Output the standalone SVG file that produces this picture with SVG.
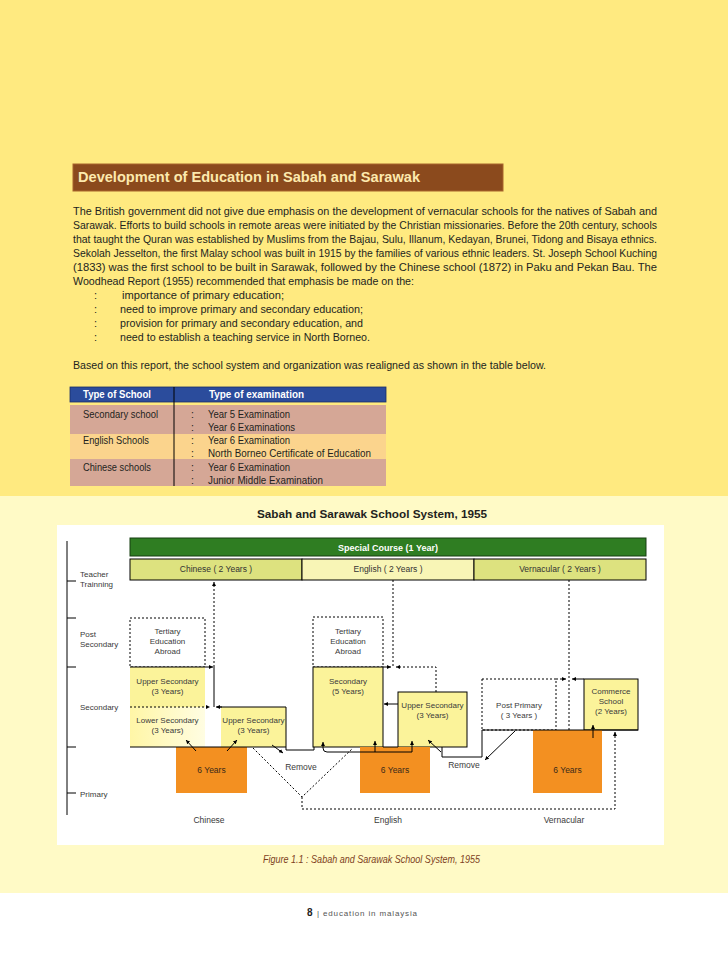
<svg xmlns="http://www.w3.org/2000/svg" width="728" height="963" viewBox="0 0 728 963">
<defs>
<style>
.f{font-family:"Liberation Sans",Arial,sans-serif}
.p{font-family:"Liberation Sans",Arial,sans-serif;font-size:11px;fill:#231f20}
.t{font-family:"Liberation Sans",Arial,sans-serif;font-size:10.5px;fill:#231f20}
.th{font-family:"Liberation Sans",Arial,sans-serif;font-size:10.5px;font-weight:bold;fill:#ffffff}
.d{font-family:"Liberation Sans",Arial,sans-serif;font-size:8px;fill:#3a3a3a}
.dm{font-family:"Liberation Sans",Arial,sans-serif;font-size:8px;fill:#3a3a3a;text-anchor:middle}
.ln{stroke:#000;stroke-width:1;fill:none}
.ds{stroke:#000;stroke-width:1;fill:none;stroke-dasharray:2 2}
.yb{fill:#fbf39a}
.or{fill:#f39021}
</style>
<linearGradient id="lg" x1="0" y1="0" x2="1" y2="0">
<stop offset="0" stop-color="#fff6a6"/>
<stop offset="1" stop-color="#fffde2"/>
</linearGradient>
<marker id="ah" viewBox="0 0 6 6" refX="6" refY="3" markerWidth="4" markerHeight="4" orient="auto">
<path d="M0,0 L6,3 L0,6 z" fill="#000"/>
</marker>
</defs>

<!-- backgrounds -->
<rect x="0" y="0" width="728" height="496" fill="#ffea80"/>
<rect x="0" y="496" width="728" height="397" fill="#fffac6"/>
<rect x="0" y="893" width="728" height="70" fill="#ffffff"/>
<rect x="57" y="525" width="607" height="320" fill="#ffffff"/>

<!-- header -->
<g id="header">
<rect x="73" y="164" width="430" height="27" fill="#8b4a1d" stroke="#a8642c" stroke-width="1"/>
<text class="f" x="78" y="182" font-size="14" font-weight="bold" fill="#fde9ad" textLength="342" lengthAdjust="spacingAndGlyphs">Development of Education in Sabah and Sarawak</text>
</g>

<!-- paragraph -->
<g id="paragraph">
<text class="p" x="73" y="215" textLength="584" lengthAdjust="spacingAndGlyphs">The British government did not give due emphasis on the development of vernacular schools for the natives of Sabah and</text>
<text class="p" x="73" y="229" textLength="584" lengthAdjust="spacingAndGlyphs">Sarawak. Efforts to build schools in remote areas were initiated by the Christian missionaries. Before the 20th century, schools</text>
<text class="p" x="73" y="243" textLength="584" lengthAdjust="spacingAndGlyphs">that taught the Quran was established by Muslims from the Bajau, Sulu, Illanum, Kedayan, Brunei, Tidong and Bisaya ethnics.</text>
<text class="p" x="73" y="257" textLength="584" lengthAdjust="spacingAndGlyphs">Sekolah Jesselton, the first Malay school was built in 1915 by the families of various ethnic leaders. St. Joseph School Kuching</text>
<text class="p" x="73" y="271" textLength="584" lengthAdjust="spacingAndGlyphs">(1833) was the first school to be built in Sarawak, followed by the Chinese school (1872) in Paku and Pekan Bau. The</text>
<text class="p" x="73" y="285" textLength="341" lengthAdjust="spacingAndGlyphs">Woodhead Report (1955) recommended that emphasis be made on the:</text>
<text class="p" x="94" y="299" font-size="7">:</text>
<text class="p" x="122" y="299" textLength="162" lengthAdjust="spacingAndGlyphs">importance of primary education;</text>
<text class="p" x="94" y="313" font-size="7">:</text>
<text class="p" x="120" y="313" textLength="243" lengthAdjust="spacingAndGlyphs">need to improve primary and secondary education;</text>
<text class="p" x="94" y="327" font-size="7">:</text>
<text class="p" x="120" y="327" textLength="243" lengthAdjust="spacingAndGlyphs">provision for primary and secondary education, and</text>
<text class="p" x="94" y="341" font-size="7">:</text>
<text class="p" x="120" y="341" textLength="250" lengthAdjust="spacingAndGlyphs">need to establish a teaching service in North Borneo.</text>
<text class="p" x="73" y="369" textLength="473" lengthAdjust="spacingAndGlyphs">Based on this report, the school system and organization was realigned as shown in the table below.</text>
</g>

<!-- table -->
<g id="table">
<rect x="70" y="387" width="316" height="15" fill="#2b4c9c" stroke="#1b2f66" stroke-width="0.8"/>
<rect x="70" y="405" width="316" height="29" fill="#d5a796"/>
<rect x="70" y="434" width="316" height="25" fill="#fbd48d"/>
<rect x="70" y="459" width="316" height="27" fill="#d5a796"/>
<line x1="174" y1="387" x2="174" y2="486" stroke="#000" stroke-width="1"/>
<text class="th" x="83" y="398" textLength="68" lengthAdjust="spacingAndGlyphs">Type of School</text>
<text class="th" x="209" y="398" textLength="95" lengthAdjust="spacingAndGlyphs">Type of examination</text>
<text class="t" x="83" y="418" textLength="75" lengthAdjust="spacingAndGlyphs">Secondary school</text>
<text class="t" x="191" y="418" font-size="6">:</text>
<text class="t" x="208" y="418" textLength="82" lengthAdjust="spacingAndGlyphs">Year 5 Examination</text>
<text class="t" x="191" y="431" font-size="6">:</text>
<text class="t" x="208" y="431" textLength="87" lengthAdjust="spacingAndGlyphs">Year 6 Examinations</text>
<text class="t" x="83" y="444" textLength="66" lengthAdjust="spacingAndGlyphs">English Schools</text>
<text class="t" x="191" y="444" font-size="6">:</text>
<text class="t" x="208" y="444" textLength="82" lengthAdjust="spacingAndGlyphs">Year 6 Examination</text>
<text class="t" x="191" y="457" font-size="6">:</text>
<text class="t" x="208" y="457" textLength="163" lengthAdjust="spacingAndGlyphs">North Borneo Certificate of Education</text>
<text class="t" x="83" y="471" textLength="68" lengthAdjust="spacingAndGlyphs">Chinese schools</text>
<text class="t" x="191" y="471" font-size="6">:</text>
<text class="t" x="208" y="471" textLength="82" lengthAdjust="spacingAndGlyphs">Year 6 Examination</text>
<text class="t" x="191" y="484" font-size="6">:</text>
<text class="t" x="208" y="484" textLength="115" lengthAdjust="spacingAndGlyphs">Junior Middle Examination</text>
</g>

<!-- diagram title -->
<text class="f" x="372" y="518" font-size="11.5" font-weight="bold" fill="#231f20" text-anchor="middle" textLength="230" lengthAdjust="spacingAndGlyphs">Sabah and Sarawak School System, 1955</text>

<!-- axis -->
<g id="axis">
<line class="ln" x1="67" y1="541" x2="67" y2="815" stroke-width="1.2"/>
<line class="ln" x1="67" y1="581" x2="76" y2="581"/>
<line class="ln" x1="67" y1="618" x2="76" y2="618"/>
<line class="ln" x1="67" y1="667" x2="76" y2="667"/>
<line class="ln" x1="67" y1="747" x2="76" y2="747"/>
<line class="ln" x1="67" y1="793" x2="76" y2="793"/>
<text class="d" x="80" y="577">Teacher</text>
<text class="d" x="80" y="587">Trainning</text>
<text class="d" x="80" y="637">Post</text>
<text class="d" x="80" y="647">Secondary</text>
<text class="d" x="80" y="710">Secondary</text>
<text class="d" x="80" y="797">Primary</text>
</g>

<!-- top bands -->
<g id="special-course">
<rect x="130" y="538" width="516" height="18" fill="#2f7d22" stroke="#173f10" stroke-width="1"/>
<text class="f" x="388" y="551" font-size="9" font-weight="bold" fill="#ffffff" text-anchor="middle">Special Course (1 Year)</text>
</g>
<g id="tt-chinese">
<rect x="130" y="559" width="172" height="21" fill="#dde27f" stroke="#000" stroke-width="1"/>
<text class="f" x="216" y="572" font-size="8.5" fill="#333" text-anchor="middle">Chinese ( 2 Years )</text>
</g>
<g id="tt-english">
<rect x="302" y="559" width="172" height="21" fill="#f8f5b6" stroke="#000" stroke-width="1"/>
<text class="f" x="388" y="572" font-size="8.5" fill="#333" text-anchor="middle">English ( 2 Years )</text>
</g>
<g id="tt-vernacular">
<rect x="474" y="559" width="172" height="21" fill="#dde27f" stroke="#000" stroke-width="1"/>
<text class="f" x="560" y="572" font-size="8.5" fill="#333" text-anchor="middle">Vernacular ( 2 Years )</text>
</g>

<!-- Chinese column -->
<g id="c-tertiary">
<rect x="130" y="618" width="75" height="49" fill="url(#lg)" class="ds"/>
<text class="dm" x="167.5" y="634">Tertiary</text>
<text class="dm" x="167.5" y="644">Education</text>
<text class="dm" x="167.5" y="654">Abroad</text>
</g>
<g id="c-upper1">
<rect x="130" y="667" width="75" height="40" class="yb"/>
<text class="dm" x="167.5" y="684">Upper Secondary</text>
<text class="dm" x="167.5" y="694">(3 Years)</text>
</g>
<g id="c-lower">
<rect x="130" y="707" width="75" height="40" fill="url(#lg)"/>
<text class="dm" x="167.5" y="723">Lower Secondary</text>
<text class="dm" x="167.5" y="733">(3 Years)</text>
</g>
<g id="c-upper2">
<rect x="221" y="707" width="65" height="40" class="yb"/>
<text class="dm" x="253.5" y="723">Upper Secondary</text>
<text class="dm" x="253.5" y="733">(3 Years)</text>
</g>
<g id="c-primary">
<rect x="176" y="747" width="71" height="46" class="or"/>
<text class="f" x="211.5" y="773" font-size="8.5" fill="#3a2a1a" text-anchor="middle">6 Years</text>
</g>

<!-- English column -->
<g id="e-tertiary">
<rect x="313" y="617" width="70" height="50" fill="url(#lg)" class="ds"/>
<text class="dm" x="348" y="634">Tertiary</text>
<text class="dm" x="348" y="644">Education</text>
<text class="dm" x="348" y="654">Abroad</text>
</g>
<g id="e-secondary">
<rect x="313" y="667" width="70" height="80" class="yb" stroke="#000" stroke-width="1"/>
<text class="dm" x="348" y="684">Secondary</text>
<text class="dm" x="348" y="694">(5 Years)</text>
</g>
<g id="e-upper">
<rect x="398" y="692" width="69" height="55" class="yb" stroke="#000" stroke-width="1"/>
<text class="dm" x="432.5" y="708">Upper Secondary</text>
<text class="dm" x="432.5" y="718">(3 Years)</text>
</g>
<g id="e-primary">
<rect x="360" y="747" width="70" height="46" class="or"/>
<text class="f" x="395" y="773" font-size="8.5" fill="#3a2a1a" text-anchor="middle">6 Years</text>
</g>

<!-- Vernacular column -->
<g id="v-postprimary">
<rect x="482" y="679" width="74" height="51" fill="url(#lg)" class="ds"/>
<text class="dm" x="519" y="708">Post Primary</text>
<text class="dm" x="519" y="718">( 3 Years )</text>
</g>
<g id="v-commerce">
<rect x="584" y="679" width="54" height="51" class="yb" stroke="#000" stroke-width="1"/>
<text class="dm" x="611" y="694">Commerce</text>
<text class="dm" x="611" y="704">School</text>
<text class="dm" x="611" y="714">(2 Years)</text>
</g>
<g id="v-primary">
<rect x="533" y="730" width="69" height="63" class="or"/>
<text class="f" x="567.5" y="773" font-size="8.5" fill="#3a2a1a" text-anchor="middle">6 Years</text>
</g>

<!-- connectors -->
<g id="connectors">
<!-- Chinese -->
<line class="ds" x1="214" y1="667" x2="214" y2="582" marker-end="url(#ah)"/>
<line class="ln" x1="214" y1="667" x2="214" y2="707"/>
<line class="ln" x1="130" y1="667" x2="213" y2="667" marker-end="url(#ah)"/>
<line class="ds" x1="130" y1="707" x2="210" y2="707" marker-end="url(#ah)"/>
<polyline class="ln" points="217,707 286,707 286,750 314,750 314,747"/>
<line class="ln" x1="222" y1="707" x2="216" y2="707" marker-end="url(#ah)"/>
<line class="ln" x1="130" y1="747" x2="286" y2="747"/>
<line class="ln" x1="196" y1="751" x2="186" y2="740" marker-end="url(#ah)"/>
<line class="ln" x1="227" y1="751" x2="237" y2="740" marker-end="url(#ah)"/>
<line class="ln" x1="272" y1="745" x2="283" y2="753" marker-end="url(#ah)"/>
<polyline class="ds" points="253,748 302,797 353,748"/>
<polyline class="ds" points="302,797 302,809 615,809 615,732" marker-end="url(#ah)"/>
<!-- English -->
<line class="ds" x1="393" y1="580" x2="393" y2="667"/>
<line class="ln" x1="383" y1="667" x2="391" y2="667" marker-end="url(#ah)"/>
<polyline class="ds" points="436,692 436,667 396,667" marker-end="url(#ah)"/>
<line class="ln" x1="398" y1="704" x2="384" y2="704" marker-end="url(#ah)"/>
<line class="ln" x1="383" y1="747" x2="398" y2="747"/>
<path class="ln" d="M412,752 L327,752 Q323,752 323,748 L323,742" marker-end="url(#ah)"/>
<line class="ln" x1="375" y1="752" x2="375" y2="741" marker-end="url(#ah)"/>
<line class="ln" x1="412" y1="752" x2="412" y2="741" marker-end="url(#ah)"/>
<line class="ln" x1="441" y1="752" x2="428" y2="740" marker-end="url(#ah)"/>
<polyline class="ln" points="442,747 442,757 482,757 482,730"/>
<!-- Vernacular -->
<line class="ln" x1="482" y1="730" x2="638" y2="730"/>
<line class="ds" x1="556" y1="679" x2="566" y2="679" marker-end="url(#ah)"/>
<line class="ds" x1="569" y1="580" x2="569" y2="730"/>
<line class="ln" x1="584" y1="679" x2="572" y2="679" marker-end="url(#ah)"/>
<line class="ln" x1="593" y1="738" x2="593" y2="725" marker-end="url(#ah)"/>
<line class="ln" x1="515" y1="731" x2="485" y2="760" marker-end="url(#ah)"/>
</g>

<!-- labels -->
<text class="f" x="301" y="770" font-size="8.5" fill="#3a3a3a" text-anchor="middle">Remove</text>
<text class="f" x="464" y="768" font-size="8.5" fill="#3a3a3a" text-anchor="middle">Remove</text>
<text class="f" x="209" y="823" font-size="8.5" fill="#3a3a3a" text-anchor="middle">Chinese</text>
<text class="f" x="388" y="823" font-size="8.5" fill="#3a3a3a" text-anchor="middle">English</text>
<text class="f" x="564" y="823" font-size="8.5" fill="#3a3a3a" text-anchor="middle">Vernacular</text>

<!-- caption -->
<text class="f" x="371.5" y="863" font-size="10" font-style="italic" fill="#7d3f1c" text-anchor="middle" textLength="217" lengthAdjust="spacingAndGlyphs">Figure 1.1 : Sabah and Sarawak School System, 1955</text>

<!-- footer -->
<text class="f" x="307" y="916" font-size="10" font-weight="bold" fill="#222">8</text>
<text class="f" x="317" y="916" font-size="8" fill="#555" textLength="100" lengthAdjust="spacing">| education in malaysia</text>
</svg>
